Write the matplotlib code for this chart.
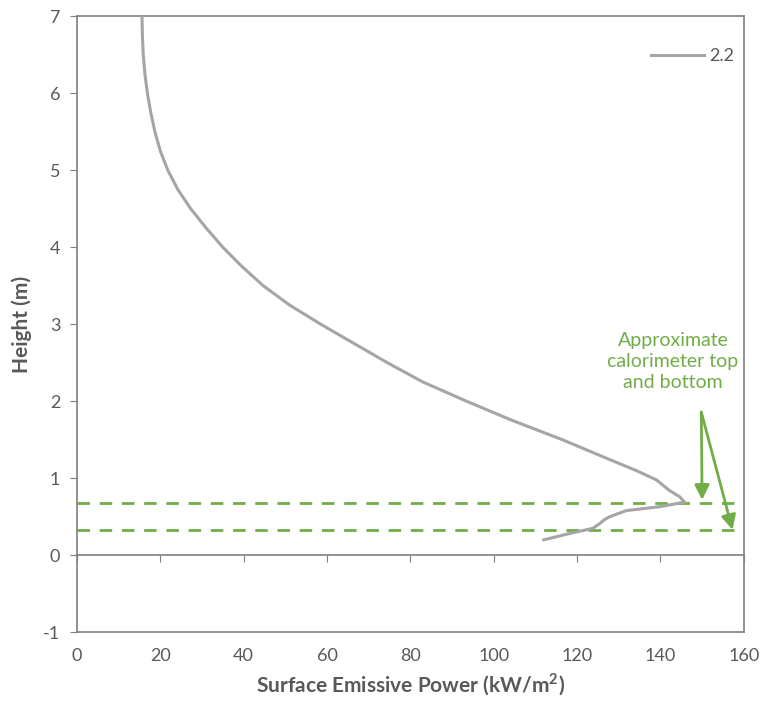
"""Surface emissive power vs height, with calorimeter top/bottom marked."""

import matplotlib

matplotlib.use("Agg")
import matplotlib.pyplot as plt

plt.rcParams["font.family"] = ["Lato", "DejaVu Sans"]
plt.rcParams["axes.unicode_minus"] = False

# Vertical SEP profile (kW/m2 vs m)
sep = [15.6, 15.7, 15.9, 16.3, 16.9, 17.7, 18.7, 20.0, 21.8, 24.2, 27.3,
       31.0, 35.0, 39.6, 44.7, 51.0, 58.5, 66.5, 74.5, 83.0, 93.5, 104.5,
       116.5, 127.5, 134.2, 139.0, 142.2, 144.6, 145.8, 139.8, 131.8, 127.8,
       126.5, 125.4, 123.8, 118.0, 112.0]
height = [7.0, 6.75, 6.5, 6.25, 6.0, 5.75, 5.5, 5.25, 5.0, 4.75, 4.5,
          4.25, 4.0, 3.75, 3.5, 3.25, 3.0, 2.75, 2.5, 2.25, 2.0, 1.75,
          1.5, 1.25, 1.10, 0.98, 0.84, 0.76, 0.69, 0.63, 0.58, 0.50,
          0.46, 0.41, 0.35, 0.28, 0.20]
series_label = "2.2"

calorimeter = [0.68, 0.325]          # top, bottom (m)
arrow_start = (149.8, 1.86)
arrow_ends = [(150.0, 0.72), (157.3, 0.33)]
note = "Approximate\ncalorimeter top\nand bottom"
note_xy = (143.0, 2.52)

xticks = list(range(0, 161, 20))
yticks = list(range(-1, 8))

GREY = "#A5A5A5"
GREEN = "#70AD47"
TEXT = "#595959"
AXIS = "#7F7F7F"

fig = plt.figure(figsize=(7.66, 7.08), dpi=100)
ax = fig.add_axes([0.1005, 0.107, 0.8705, 0.870])

ax.plot(sep, height, color=GREY, lw=2.2, label=series_label, zorder=3)
for h in calorimeter:
    ax.axhline(h, color=GREEN, lw=2.0, ls=(0, (4.5, 3.5)), zorder=2)
for end in arrow_ends:
    ax.annotate("", xy=end, xytext=arrow_start,
                arrowprops=dict(arrowstyle="-|>", color=GREEN, lw=2.0,
                                mutation_scale=22, shrinkA=0, shrinkB=0))
ax.text(*note_xy, note, color=GREEN, fontsize=14, ha="center", va="center",
        linespacing=1.3)

ax.set_xlim(0, 160)
ax.set_ylim(-1, 7)

# x axis crosses at y = 0 (tick marks there); labels sit at the bottom
ax.spines["bottom"].set_position(("data", 0))
ax.set_xticks(xticks)
ax.tick_params(axis="x", direction="out", length=5, color=AXIS,
               labelbottom=False)
sec = ax.secondary_xaxis(0.0)
sec.set_xticks(xticks)
sec.tick_params(length=0, pad=11, labelsize=13, labelcolor=TEXT)
sec.spines["bottom"].set_color(AXIS)
sec.spines["bottom"].set_linewidth(1.2)
sec.set_xlabel("Surface Emissive Power (kW/m$^\\mathregular{2}$)",
               fontsize=15, fontweight="bold", color=TEXT, labelpad=6)

ax.set_yticks(yticks)
ax.tick_params(axis="y", direction="out", length=5, color=AXIS, pad=7,
               labelsize=13, labelcolor=TEXT)
ax.set_ylabel("Height (m)", fontsize=15, fontweight="bold", color=TEXT,
              labelpad=8)
for s in ax.spines.values():
    s.set_color(AXIS)
    s.set_linewidth(1.2)

ax.legend(loc="upper right", frameon=False, fontsize=13, labelcolor=TEXT,
          handlelength=2.9, handletextpad=0.3, bbox_to_anchor=(1.01, 0.975))

fig.savefig("out.png", dpi=100)
